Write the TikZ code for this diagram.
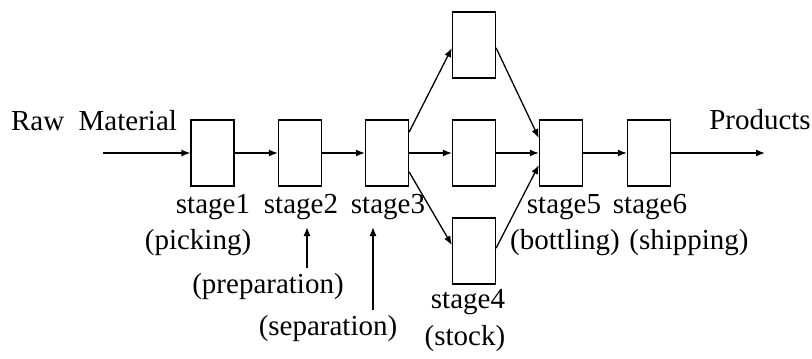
\documentclass[tikz,border=0pt]{standalone}
\usepackage{fontspec}
\setmainfont{Liberation Serif}
\usetikzlibrary{arrows.meta,calc}
\begin{document}
\begin{tikzpicture}[x=1pt,y=-1pt,
  stagebox/.style={draw,line width=1.3pt,minimum width=43pt,minimum height=66pt,inner sep=0pt},
  lbl/.style={font=\fontsize{29}{31}\selectfont,inner sep=0pt,anchor=base},
  flow/.style={line width=1.3pt,-{Latex[length=9pt,width=7pt]}}]
  \useasboundingbox (0,0) rectangle (812,359);

  % process stages
  \node[stagebox] (s1) at (212.5,153) {};
  \node[stagebox] (s2) at (300,153) {};
  \node[stagebox] (s3) at (387,153) {};
  \node[stagebox] (s4a) at (474,45) {};
  \node[stagebox] (s4b) at (474,153) {};
  \node[stagebox] (s4c) at (474,251) {};
  \node[stagebox] (s5) at (561,153) {};
  \node[stagebox] (s6) at (649,153) {};

  % inlet and outlet ends
  \coordinate (in) at (103,153);
  \coordinate (out) at (765,153);

  % texts
  \node[lbl] (raw) at (94,130) {Raw\ \ Material};
  \node[lbl] (prod) at (760,129) {Products};
  \node[lbl] (t1) at (213,213) {stage1};
  \node[lbl] (t2) at (301,213) {stage2};
  \node[lbl] (t3) at (388,213) {stage3};
  \node[lbl] (t5) at (564,213) {stage5};
  \node[lbl] (t6) at (650,213) {stage6};
  \node[lbl] (t4) at (468,308) {stage4};
  \node[lbl] (p1) at (198,249) {(picking)};
  \node[lbl] (p5) at (565,249) {(bottling)};
  \node[lbl] (p6) at (689,249) {(shipping)};
  \node[lbl] (p2) at (268,293) {(preparation)};
  \node[lbl] (p3) at (328,335) {(separation)};
  \node[lbl] (p4) at (465,345) {(stock)};

  % main flow
  \draw[flow] (in) -- (s1.west);
  \draw[flow] (s1.east) -- (s2.west);
  \draw[flow] (s2.east) -- (s3.west);
  \draw[flow] (s3.east) -- (s4b.west);
  \draw[flow] (s4b.east) -- (s5.west);
  \draw[flow] (s5.east) -- (s6.west);
  \draw[flow] (s6.east) -- (out);

  % branches through the stock stage
  \draw[flow] ([yshift=21pt]s3.east) -- ([yshift=-3pt]s4a.west);
  \draw[flow] ([yshift=-19pt]s3.east) -- ([yshift=6pt]s4c.west);
  \draw[flow] ([yshift=-3pt]s4a.east) -- ([yshift=15pt]s5.west);
  \draw[flow] ([yshift=3pt]s4c.east) -- ([yshift=-12pt]s5.west);

  % side feeds
  \coordinate (f2) at (307,268);
  \coordinate (f3) at (373,310);
  \draw[flow] (f2) -- (307,227);
  \draw[flow] (f3) -- (373,227);
\end{tikzpicture}
\end{document}
